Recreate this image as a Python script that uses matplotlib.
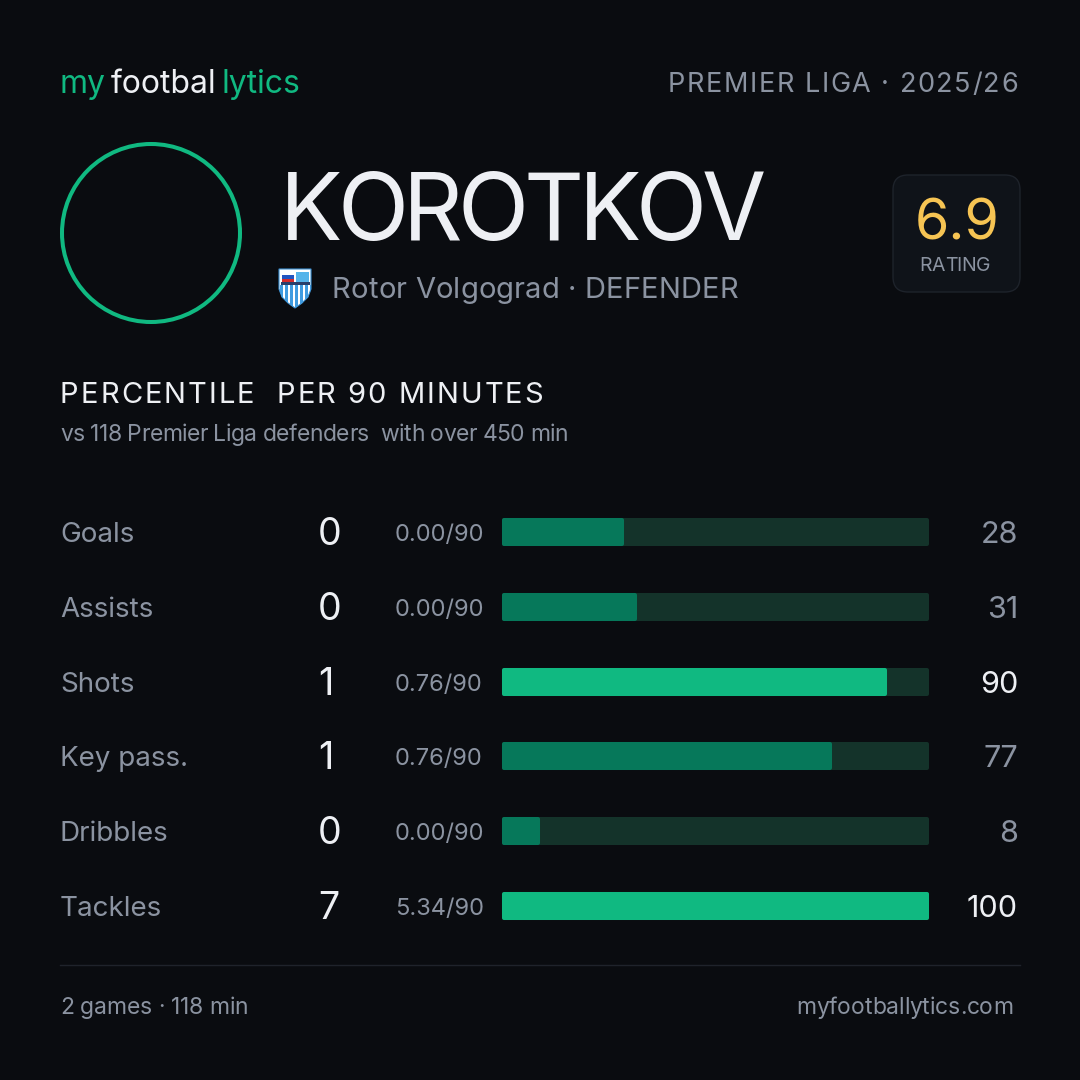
import matplotlib
matplotlib.use('Agg')
import matplotlib.pyplot as plt
import matplotlib.transforms as mtransforms
from matplotlib.patches import Circle, FancyBboxPatch, Polygon, Rectangle
from matplotlib.font_manager import FontProperties

plt.rcParams['font.family'] = ['Inter', 'DejaVu Sans']

# data
player = 'KOROTKOV'
club_line = 'Rotor Volgograd · DEFENDER'
league_line = 'PREMIER LIGA · 2025/26'
rating = 6.9
stats = ['Goals', 'Assists', 'Shots', 'Key pass.', 'Dribbles', 'Tackles']
totals = [0, 0, 1, 1, 0, 7]
per90 = [0.00, 0.00, 0.76, 0.76, 0.00, 5.34]
percentiles = [28, 31, 90, 77, 8, 100]
games = 2
minutes = 118

BG = '#0a0c10'
GREEN = '#10b981'
DARK = '#06785a'
TRACK = '#14332a'
WHITE = '#eef0f4'
GRAY = '#8b93a1'

fig = plt.figure(figsize=(10.8, 10.8), dpi=100, facecolor=BG)
ax = fig.add_axes([0, 0, 1, 1])
ax.set_xlim(0, 1080)
ax.set_ylim(1080, 0)
ax.axis('off')
ax.set_facecolor(BG)

r = fig.canvas.get_renderer()


def tw(s, fp):
    w, _, _ = r.get_text_width_height_descent(s + '|', fp, ismath=False)
    w0, _, _ = r.get_text_width_height_descent('|', fp, ismath=False)
    return w - w0


def spaced(x, y, s, size, color, width=None, track=0, ha='left'):
    # text with letter spacing, y is the baseline
    fp = FontProperties(family=['Inter', 'DejaVu Sans'], size=size)
    nat = tw(s, fp)
    if width is not None:
        track = (width - nat) / (len(s) - 1)
    total = nat + track * (len(s) - 1)
    if ha == 'right':
        x0 = x - total
    elif ha == 'center':
        x0 = x - total / 2
    else:
        x0 = x
    for i, ch in enumerate(s):
        if ch == ' ':
            continue
        ax.text(x0 + tw(s[:i], fp) + track * i, y, ch, fontproperties=fp,
                color=color, ha='left', va='baseline')


# header logo, three words set one after another
logo_fp = FontProperties(family=['Inter', 'DejaVu Sans'], size=23)
x = 60
for part, col in [('my', GREEN), ('footbal', WHITE), ('lytics', GREEN)]:
    ax.text(x, 93, part, fontproperties=logo_fp, color=col, va='baseline')
    x += tw(part, logo_fp) + 5
spaced(1018, 92, league_line, 19.5, GRAY, width=350, ha='right')

# avatar ring
ax.add_patch(Circle((151, 233), 89, fill=False, ec=GREEN, lw=2.9))

# name + club
spaced(280, 240, player, 67, WHITE, width=486)
shield = [(279, 269), (311, 269), (311, 289), (308, 297), (302, 303), (295, 308),
          (288, 303), (282, 297), (279, 289)]
sp = Polygon(shield, closed=True, fc='white', ec='#3a8fd0', lw=0.8)
ax.add_patch(sp)
for sx in range(280, 311, 5):
    st = Rectangle((sx, 285), 2.6, 24, fc='#3f9be0', ec='none')
    st.set_clip_path(sp)
    ax.add_patch(st)
ax.add_patch(Rectangle((282, 272), 12, 3.3, fc='white', ec='none'))
ax.add_patch(Rectangle((282, 275.3), 12, 3.3, fc='#2255c0', ec='none'))
ax.add_patch(Rectangle((282, 278.6), 12, 3.3, fc='#d52b2b', ec='none'))
ax.add_patch(Rectangle((296, 272), 13, 10, fc='#55b4ea', ec='none'))
ax.add_patch(Rectangle((281, 282), 29, 3, fc='#2a3f6a', ec='none'))
spaced(332, 298, club_line, 21, GRAY, width=406)

# rating box
ax.add_patch(FancyBboxPatch((893, 175), 127, 117, boxstyle='round,pad=0,rounding_size=15',
                            fc='#0f1319', ec='#1e232b', lw=1))
ax.text(957, 240, f'{rating:.1f}', fontsize=40, color='#f6c453', ha='center', va='baseline')
spaced(955, 271, 'RATING', 14, GRAY, width=71, ha='center')

# section title
spaced(60, 403, 'PERCENTILE  PER 90 MINUTES', 21, WHITE, width=483)
spaced(60, 441, 'vs 118 Premier Liga defenders  with over 450 min', 16.5, GRAY, width=508)

# bars
top, bottom = 532 - 37.4, 532 + 74.8 * 5 + 37.4
bx = fig.add_axes([504 / 1080, 1 - bottom / 1080, (927 - 504) / 1080, (bottom - top) / 1080])
bx.set_xlim(0, 100)
bx.set_ylim(len(stats) - 0.5, -0.5)
bx.axis('off')
rows = list(range(len(stats)))
h = 24 / 74.8
bx.barh(rows, [100] * len(stats), height=h, color=TRACK, edgecolor=TRACK, lw=2.9,
        joinstyle='round', clip_on=False)
fill_cols = [GREEN if p >= 80 else DARK for p in percentiles]
bx.barh(rows, percentiles, height=h, color=fill_cols, edgecolor=fill_cols, lw=2.9,
        joinstyle='round', clip_on=False)

blend = mtransforms.blended_transform_factory(ax.transData, bx.transData)


def row_tf(dy):
    return mtransforms.offset_copy(blend, fig=fig, y=-dy, units='dots')


for i, name in enumerate(stats):
    ax.text(60, i, name, transform=row_tf(10), fontsize=20, color=GRAY, va='baseline')
    ax.text(318, i, str(totals[i]), transform=row_tf(13), fontsize=27, color=WHITE,
            va='baseline')
    ax.text(395, i, f'{per90[i]:.2f}/90', transform=row_tf(9), fontsize=17, color=GRAY,
            va='baseline')
    ax.text(1018, i, str(percentiles[i]), transform=row_tf(11), fontsize=22,
            color=WHITE if percentiles[i] >= 80 else GRAY, ha='right', va='baseline')

# footer
ax.plot([60, 1020], [965, 965], color='#1f232b', lw=1)
spaced(60, 1014, f'{games} games · {minutes} min', 16.5, GRAY, width=188)
spaced(1013, 1014, 'myfootballytics.com', 16.5, GRAY, width=217, ha='right')

fig.savefig('out.png', dpi=100, facecolor=BG)
